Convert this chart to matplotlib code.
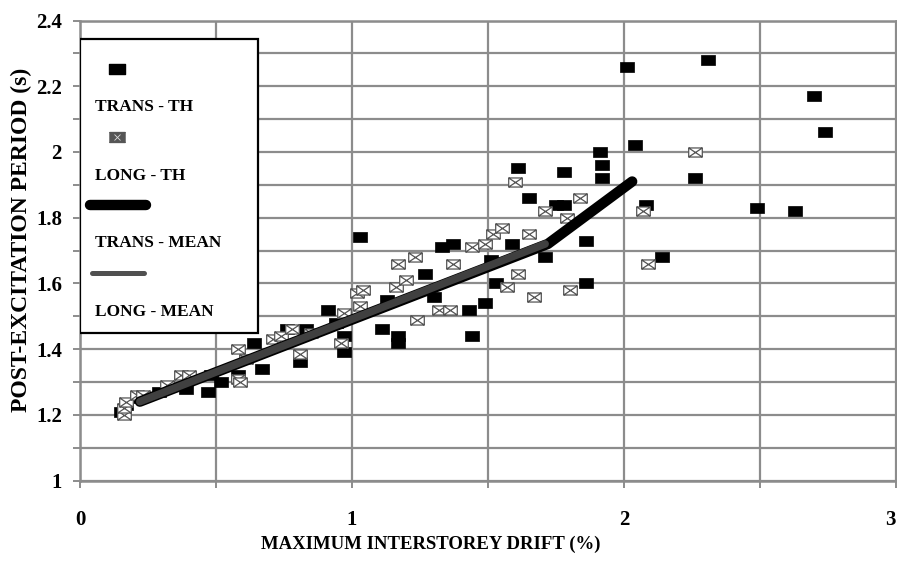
import numpy as np
import matplotlib
matplotlib.use('Agg')
import matplotlib.pyplot as plt
from matplotlib.path import Path
from matplotlib.patches import Rectangle
from matplotlib.ticker import MultipleLocator

plt.rcParams['font.family'] = 'Liberation Serif'
plt.rcParams['font.weight'] = 'bold'

# TRANS - TH (black squares)
trans_x = [0.15, 0.17, 0.21, 0.29, 0.39, 0.47, 0.48, 0.52, 0.58, 0.64, 0.67, 0.76, 0.81, 0.83,
           0.91, 0.94, 0.97, 0.97, 1.03, 1.11, 1.13, 1.17, 1.17, 1.27, 1.30, 1.33, 1.37, 1.43,
           1.44, 1.49, 1.51, 1.53, 1.59, 1.61, 1.65, 1.71, 1.75, 1.78, 1.78, 1.86, 1.86, 1.91,
           1.92, 1.92, 2.01, 2.04, 2.08, 2.14, 2.26, 2.31, 2.49, 2.63, 2.70, 2.74]
trans_y = [1.21, 1.23, 1.25, 1.27, 1.28, 1.27, 1.32, 1.30, 1.32, 1.42, 1.34, 1.46, 1.36, 1.46,
           1.52, 1.48, 1.39, 1.44, 1.74, 1.46, 1.55, 1.44, 1.42, 1.63, 1.56, 1.71, 1.72, 1.52,
           1.44, 1.54, 1.67, 1.60, 1.72, 1.95, 1.86, 1.68, 1.84, 1.84, 1.94, 1.73, 1.60, 2.00,
           1.96, 1.92, 2.26, 2.02, 1.84, 1.68, 1.92, 2.28, 1.83, 1.82, 2.17, 2.06]

# LONG - TH (crossed boxes)
long_x = [0.16, 0.16, 0.17, 0.21, 0.23, 0.32, 0.37, 0.40, 0.58, 0.59, 0.58, 0.61, 0.71, 0.74,
          0.78, 0.81, 0.85, 0.96, 0.97, 1.02, 1.03, 1.04, 1.16, 1.17, 1.20, 1.23, 1.24, 1.32,
          1.36, 1.37, 1.44, 1.49, 1.52, 1.55, 1.57, 1.60, 1.61, 1.65, 1.67, 1.71, 1.79, 1.80,
          1.84, 2.07, 2.09, 2.26]
long_y = [1.20, 1.22, 1.24, 1.26, 1.26, 1.29, 1.32, 1.32, 1.31, 1.30, 1.40, 1.37, 1.43, 1.44,
          1.46, 1.385, 1.45, 1.42, 1.51, 1.57, 1.53, 1.58, 1.59, 1.66, 1.61, 1.68, 1.49, 1.52,
          1.52, 1.66, 1.71, 1.72, 1.75, 1.77, 1.59, 1.91, 1.63, 1.75, 1.56, 1.82, 1.80, 1.58,
          1.86, 1.82, 1.66, 2.00]

# mean curves
trans_mean_x = [0.22, 1.72, 2.03]
trans_mean_y = [1.24, 1.72, 1.91]
long_mean_x = [0.22, 1.71]
long_mean_y = [1.24, 1.72]

GRID = '#8c8c8c'

rect_path = Path([(-0.75, -0.5), (0.75, -0.5), (0.75, 0.5), (-0.75, 0.5), (-0.75, -0.5)],
                 [Path.MOVETO, Path.LINETO, Path.LINETO, Path.LINETO, Path.CLOSEPOLY])
cross_path = Path([(-0.75, -0.5), (0.75, -0.5), (0.75, 0.5), (-0.75, 0.5), (-0.75, -0.5),
                   (-0.75, -0.5), (0.75, 0.5), (-0.75, 0.5), (0.75, -0.5)],
                  [Path.MOVETO, Path.LINETO, Path.LINETO, Path.LINETO, Path.CLOSEPOLY,
                   Path.MOVETO, Path.LINETO, Path.MOVETO, Path.LINETO])

fig = plt.figure(figsize=(8.97, 5.61), dpi=100)
ax = fig.add_axes([80 / 897, 1 - 480.5 / 561, 816 / 897, 460 / 561])

ax.plot(trans_x, trans_y, ls='none', marker=rect_path, ms=10, mfc='black', mec='black',
        mew=0.5, zorder=3)
ax.plot(long_x, long_y, ls='none', marker=cross_path, ms=9.8, mfc='white', mec='#555555',
        mew=0.9, zorder=4)
ax.plot(trans_mean_x, trans_mean_y, color='black', lw=7.5, solid_capstyle='round',
        solid_joinstyle='round', zorder=5)
ax.plot(long_mean_x, long_mean_y, color='#404040', lw=5.5, solid_capstyle='round', zorder=6)

ax.set_xlim(0, 3)
ax.set_ylim(1, 2.4)
ax.xaxis.set_minor_locator(MultipleLocator(0.5))
ax.yaxis.set_minor_locator(MultipleLocator(0.1))
ax.set_xticks([0, 1, 2, 3])
ax.set_xticklabels(['0', '1', '2', '3'])
ax.get_xticklabels()[-1].set_horizontalalignment('right')
ax.set_yticks([1, 1.2, 1.4, 1.6, 1.8, 2, 2.2, 2.4])
ax.set_yticklabels(['1', '1.2', '1.4', '1.6', '1.8', '2', '2.2', '2.4'])
ax.grid(which='both', color=GRID, lw=1.6, zorder=0)
ax.set_axisbelow(True)
for s in ax.spines.values():
    s.set_color(GRID)
    s.set_linewidth(1.8)
ax.tick_params(which='both', direction='out', color=GRID, width=1.4, length=5,
               labelsize=15)
ax.tick_params(axis='x', pad=16)
ax.tick_params(axis='y', pad=8)

ax.set_xlabel('MAXIMUM INTERSTOREY DRIFT (%)', fontsize=13.5, fontweight='bold', labelpad=4)
ax.set_ylabel('POST-EXCITATION PERIOD (s)', fontsize=17, fontweight='bold', labelpad=3)
ax.xaxis.label.set_x(0.43)
ax.yaxis.label.set_y(0.523)

# Excel-style legend: sample above each label
ax.add_patch(Rectangle((0.0, 0.321), 0.218, 0.639, transform=ax.transAxes,
                       facecolor='white', edgecolor='black', lw=1.6, zorder=10))
ax.plot([0.0457], [0.8946], transform=ax.transAxes, ls='none', marker=rect_path, ms=11,
        mfc='black', mec='black', zorder=11, clip_on=False)
ax.plot([0.0457], [0.746], transform=ax.transAxes, ls='none', marker=cross_path, ms=11,
        mfc='#555555', mec='#555555', mew=0.8, zorder=11, clip_on=False)
ax.plot([0.0457], [0.746], transform=ax.transAxes, ls='none', marker='x', ms=5,
        mec='#dddddd', mew=0.6, zorder=12, clip_on=False)
ax.plot([0.0123, 0.0809], [0.599, 0.599], transform=ax.transAxes, color='black', lw=7.5,
        solid_capstyle='round', zorder=11)
ax.plot([0.0153, 0.0779], [0.4504, 0.4504], transform=ax.transAxes, color='#505050', lw=3.6,
        solid_capstyle='round', zorder=11)
for txt, yy in [('TRANS - TH', 0.8126), ('LONG - TH', 0.6626),
                ('TRANS - MEAN', 0.5157), ('LONG - MEAN', 0.366)]:
    ax.text(0.0184, yy, txt, transform=ax.transAxes, fontsize=12.5, fontweight='bold',
            va='center', ha='left', zorder=12)

fig.savefig('out.png', dpi=100)
